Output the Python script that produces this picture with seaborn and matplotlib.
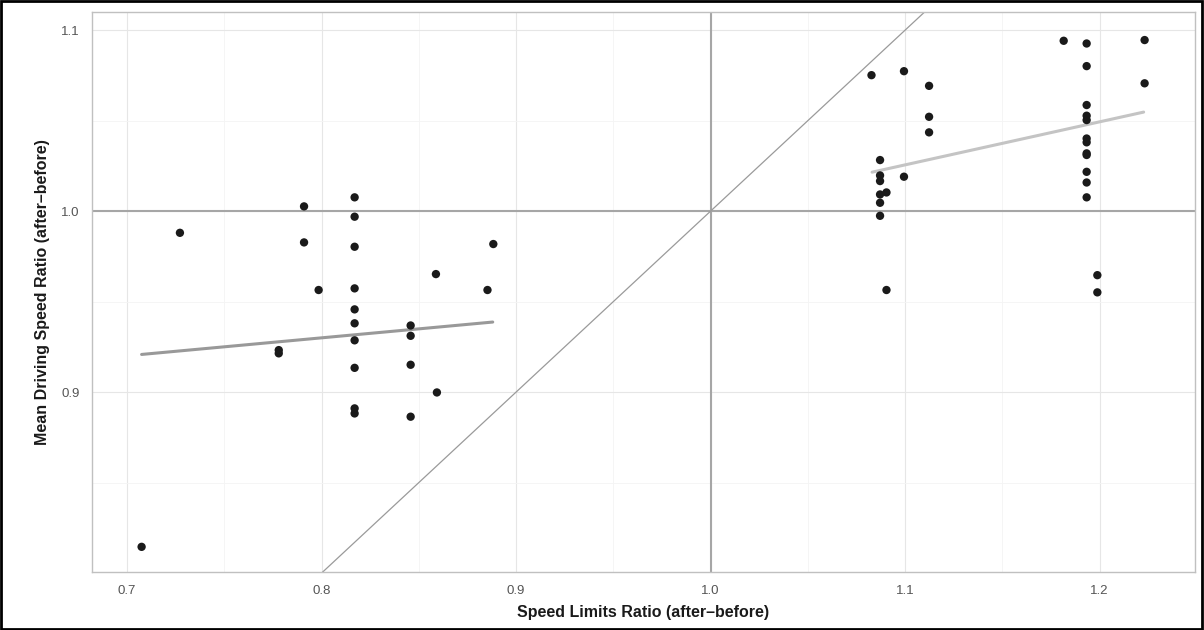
import numpy as np
import pandas as pd
import matplotlib
matplotlib.use("Agg")
import matplotlib.pyplot as plt
import seaborn as sns
from matplotlib.patches import Rectangle
from matplotlib.ticker import MultipleLocator

# ---- data ----
left_x = [0.7075, 0.7272, 0.791, 0.791, 0.7985, 0.778, 0.778,
          0.817, 0.817, 0.817, 0.817, 0.817, 0.817, 0.817, 0.817, 0.817, 0.817,
          0.8458, 0.8458, 0.8458, 0.8458, 0.8588, 0.8593, 0.8853, 0.8883]
left_y = [0.8145, 0.988, 1.0026, 0.9827, 0.9564, 0.9232, 0.9214,
          1.0076, 0.9969, 0.9803, 0.9573, 0.9457, 0.938, 0.9286, 0.9134, 0.891, 0.8882,
          0.9368, 0.9311, 0.9151, 0.8864, 0.9652, 0.8998, 0.9564, 0.9818]

right_x = [1.0827, 1.0994, 1.1123, 1.1123, 1.1123, 1.0994,
           1.0871, 1.0871, 1.0871, 1.0871, 1.0871, 1.0871, 1.0904, 1.0904,
           1.1815, 1.1933, 1.1933, 1.1933, 1.1933, 1.1933, 1.1933, 1.1933,
           1.1933, 1.1933, 1.1933, 1.1933, 1.1933, 1.1988, 1.1988, 1.2231, 1.2231]
right_y = [1.0751, 1.0773, 1.0692, 1.0521, 1.0435, 1.019,
           1.0282, 1.0197, 1.0166, 1.0092, 1.0046, 0.9974, 1.0103, 0.9564,
           1.0941, 1.0926, 1.0801, 1.0586, 1.0527, 1.0503, 1.0401, 1.038,
           1.0319, 1.031, 1.0217, 1.0158, 1.0076, 0.9646, 0.9551, 1.0945, 1.0706]

# trend lines (end points)
trend_left_x = [0.7075, 0.888]
trend_left_y = [0.9208, 0.9387]
trend_right_x = [1.083, 1.2226]
trend_right_y = [1.0215, 1.0547]

# identity reference line y = x
identity = [0.6, 1.3]

x_ticks = [0.7, 0.8, 0.9, 1.0, 1.1, 1.2]
y_ticks = [0.9, 1.0, 1.1]

x_label = "Speed Limits Ratio (after\u2013before)"
y_label = "Mean Driving Speed Ratio (after\u2013before)"

# ---- styling ----
sns.set_theme(style="white")
plt.rcParams["font.family"] = ["Liberation Sans", "DejaVu Sans"]

fig = plt.figure(figsize=(12.04, 6.30), dpi=100)
ax = fig.add_axes([92 / 1204, 1 - 572 / 630, (1195 - 92) / 1204, (572 - 12) / 630])

# grid
ax.xaxis.set_minor_locator(MultipleLocator(0.05))
ax.yaxis.set_minor_locator(MultipleLocator(0.05))
ax.grid(which="major", color="#e6e6e6", linewidth=0.8, zorder=0)
ax.grid(which="minor", color="#f4f4f4", linewidth=0.6, zorder=0)
ax.set_axisbelow(True)

# reference lines
ax.axhline(1.0, color="#a6a6a6", linewidth=1.5, zorder=1)
ax.axvline(1.0, color="#a6a6a6", linewidth=1.5, zorder=1)
sns.lineplot(x=identity, y=identity, ax=ax, color="#9a9a9a", linewidth=0.9, zorder=1)

# points
pts = pd.DataFrame({"x": left_x + right_x, "y": left_y + right_y})
sns.scatterplot(data=pts, x="x", y="y", ax=ax, color="#1a1a1a", s=36,
                edgecolor="none", zorder=3)

# trend lines
sns.lineplot(x=trend_left_x, y=trend_left_y, ax=ax, color="#999999",
             linewidth=2.2, zorder=2)
sns.lineplot(x=trend_right_x, y=trend_right_y, ax=ax, color="#c4c4c4",
             linewidth=2.2, zorder=2)

ax.set_xlim(0.682, 1.249)
ax.set_ylim(0.8006, 1.110)
ax.set_xticks(x_ticks)
ax.set_yticks(y_ticks)
ax.set_xticklabels([f"{v:.1f}" for v in x_ticks])
ax.set_yticklabels([f"{v:.1f}" for v in y_ticks])
ax.tick_params(which="major", length=3, width=0.8, color="#b0b0b0",
               labelsize=9.5, labelcolor="#555555", pad=6)
ax.tick_params(which="minor", length=0)
for sp in ax.spines.values():
    sp.set_color("#c0c0c0")
    sp.set_linewidth(1.0)

ax.set_xlabel(x_label, fontsize=11.5, fontweight="bold", color="#1a1a1a", labelpad=6)
ax.set_ylabel(y_label, fontsize=11.5, fontweight="bold", color="#1a1a1a", labelpad=8)

# outer black frame
fig.patches.append(Rectangle((0.001, 0.002), 0.997, 0.996, transform=fig.transFigure,
                             fill=False, edgecolor="black", linewidth=2.0))

fig.savefig("out.png", dpi=100, facecolor="white")
